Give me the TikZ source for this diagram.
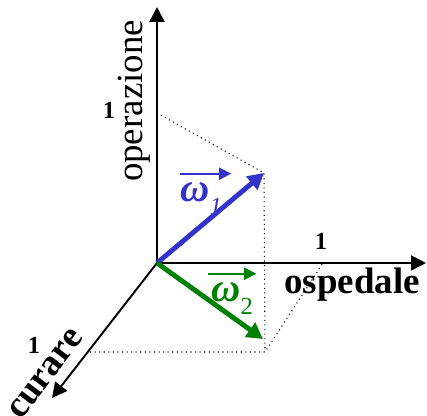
\documentclass[tikz,border=0pt]{standalone}
\usepackage{fontspec}
\setmainfont{Liberation Serif}
\usetikzlibrary{arrows.meta}
\definecolor{vecblue}{RGB}{51,51,204}
\definecolor{vecgreen}{RGB}{0,128,0}

\begin{document}
\begin{tikzpicture}[x=0.02cm, y=0.02cm,
  axis/.style={line width=1.1pt, -{Triangle[length=0.3cm, width=0.3cm]}},
  vec/.style={line width=2.8pt, -{Triangle[length=0.32cm, width=0.34cm]}},
  guide/.style={dotted, line width=0.6pt},
  overarrow/.style={line width=1.1pt, -{Triangle[length=0.24cm, width=0.24cm]}},
  unitlbl/.style={font=\fontsize{14}{14}\selectfont\bfseries},
  axislbl/.style={font=\fontsize{21}{21}\selectfont},
  veclbl/.style={font=\fontsize{23}{23}\selectfont\bfseries\itshape, inner sep=0pt, anchor=base west}]
  \useasboundingbox (0,0) rectangle (427,416);

  % Points of the frame
  \coordinate (O)      at (157,153);
  \coordinate (opTip)  at (157,409);
  \coordinate (ospTip) at (426,153);
  \coordinate (curTip) at (52,18);
  \coordinate (op1)    at (157,303);
  \coordinate (osp1)   at (323,153);
  \coordinate (cur1)   at (90,64);
  \coordinate (w1)     at (264,243);
  \coordinate (w2)     at (263,77);
  \coordinate (base)   at (265,64);

  % Dotted guides
  \draw[guide] (op1) -- (w1) -- (base);
  \draw[guide] (cur1) -- (base) -- (osp1);

  % Axes
  \draw[axis] (O) -- (opTip);
  \draw[axis] (O) -- (ospTip);
  \draw[axis] (O) -- (curTip);

  % Vectors
  \draw[vec, vecblue]  (O) -- (w1);
  \draw[vec, vecgreen] (O) -- (w2);

  % Axis labels
  \node[axislbl, rotate=90, anchor=base] (opLbl) at (142,315) {operazione};
  \node[axislbl, font=\fontsize{21}{21}\selectfont\bfseries, anchor=base] (ospLbl) at (352,122) {ospedale};
  \node[axislbl, font=\fontsize{21}{21}\selectfont\bfseries, rotate=53] (curLbl) at (46,42) {curare};

  % Unit marks
  \node[unitlbl] (op1Lbl)  at (109,306) {1};
  \node[unitlbl] (osp1Lbl) at (321,175) {1};
  \node[unitlbl] (cur1Lbl) at (34,71)   {1};

  % Vector labels
  \node[veclbl, vecblue] (w1Lbl) at (180,214)
    {ω\raisebox{-0.3em}{\fontsize{14}{14}\selectfont\mdseries 1}};
  \node[veclbl, vecgreen] (w2Lbl) at (211,114)
    {ω\raisebox{-0.3em}{\fontsize{14}{14}\selectfont\mdseries\upshape 2}};
  \draw[overarrow, vecblue]
    ([yshift=0.18cm]w1Lbl.north west) -- ([xshift=0.18cm, yshift=0.18cm]w1Lbl.north east);
  \draw[overarrow, vecgreen]
    ([xshift=-0.06cm, yshift=0.18cm]w2Lbl.north west) -- ([xshift=0.06cm, yshift=0.18cm]w2Lbl.north east);
\end{tikzpicture}
\end{document}
